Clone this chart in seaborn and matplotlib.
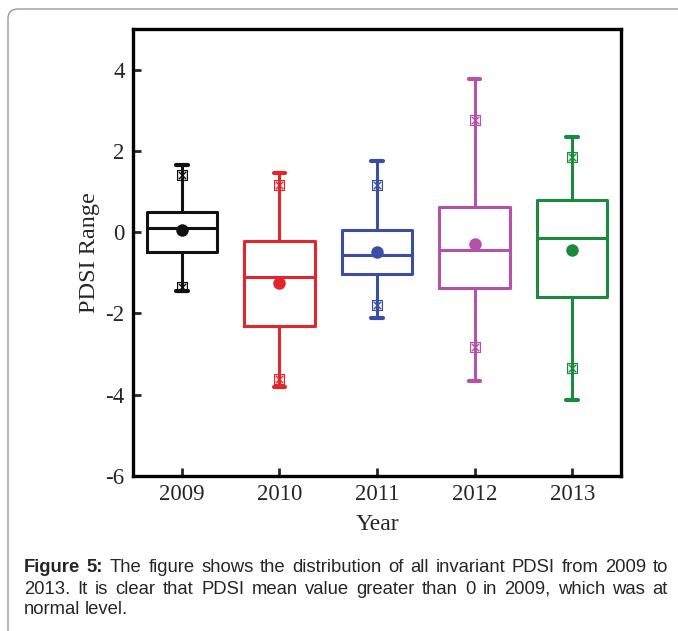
import pandas as pd
import matplotlib.pyplot as plt
import seaborn as sns
from matplotlib.patches import FancyBboxPatch

# valores
years = ['2009', '2010', '2011', '2012', '2013']
whisker_high = [1.65, 1.45, 1.75, 3.78, 2.35]
p99 = [1.40, 1.15, 1.15, 2.75, 1.85]
q3 = [0.50, -0.22, 0.05, 0.62, 0.78]
median = [0.10, -1.10, -0.55, -0.45, -0.15]
mean = [0.05, -1.25, -0.48, -0.30, -0.45]
q1 = [-0.48, -2.30, -1.02, -1.38, -1.60]
p01 = [-1.35, -3.62, -1.78, -2.82, -3.35]
whisker_low = [-1.45, -3.82, -2.12, -3.65, -4.12]
colors = ['#111111', '#e3262b', '#3b4ea5', '#b452a9', '#1a8a3e']

sns.set_style('ticks')
plt.rcParams['font.family'] = ['Liberation Serif', 'DejaVu Serif']
plt.rcParams['axes.unicode_minus'] = False

fig = plt.figure(figsize=(6.78, 6.31), dpi=100)
ax = fig.add_axes([133 / 678, 1 - 476 / 631, (621 - 133) / 678, (476 - 29) / 631])

df = pd.DataFrame({'year': years, 'mean': mean, 'p99': p99, 'p01': p01})
pal = dict(zip(years, colors))

# pontos de media
sns.stripplot(data=df, x='year', y='mean', hue='year', palette=pal, jitter=False,
              size=9, legend=False, ax=ax, zorder=5)
# marcadores 1% / 99%
for col in ['p99', 'p01']:
    sns.stripplot(data=df, x='year', y=col, hue='year', palette=pal, jitter=False,
                  marker=r'$\boxtimes$', size=8, linewidth=0, legend=False, ax=ax, zorder=5)

for i, y in enumerate(years):
    c = colors[i]
    st = [dict(med=median[i], q1=q1[i], q3=q3[i], whislo=whisker_low[i],
               whishi=whisker_high[i], fliers=[], label=y)]
    ax.bxp(st, positions=[i], widths=0.72, capwidths=0.12, showfliers=False,
           manage_ticks=False,
           boxprops=dict(color=c, linewidth=2.2),
           medianprops=dict(color=c, linewidth=2.2),
           whiskerprops=dict(color=c, linewidth=2.2),
           capprops=dict(color=c, linewidth=3))

ax.set_xlim(-0.5, 4.5)
ax.set_ylim(-6, 5)
ax.set_yticks([-6, -4, -2, 0, 2, 4])
ax.set_xticks(range(5))
ax.set_xticklabels(years)
ax.tick_params(direction='in', length=6, width=2, labelsize=16.5, pad=6)
for s in ax.spines.values():
    s.set_linewidth(2.4)
    s.set_color('black')
ax.set_xlabel('Year', fontsize=17, labelpad=6)
ax.set_ylabel('PDSI Range', fontsize=17.5, labelpad=4)

# moldura externa
frame = FancyBboxPatch((8 / 678, 1 - 700 / 631), 720 / 678, 691 / 631,
                       boxstyle='round,pad=0,rounding_size=0.015',
                       transform=fig.transFigure, fill=False,
                       edgecolor='#9a9a9a', linewidth=1.0)
fig.patches.append(frame)

# legenda da figura (texto justificado)
cap_font = ['Liberation Sans', 'DejaVu Sans']
lines = [
    [('Figure', 'bold'), ('5:', 'bold'), ('The', 'normal'), ('figure', 'normal'), ('shows', 'normal'),
     ('the', 'normal'), ('distribution', 'normal'), ('of', 'normal'), ('all', 'normal'),
     ('invariant', 'normal'), ('PDSI', 'normal'), ('from', 'normal'), ('2009', 'normal'), ('to', 'normal')],
    [(w, 'normal') for w in '2013. It is clear that PDSI mean value greater than 0 in 2009, which was at'.split()],
    [(w, 'normal') for w in 'normal level.'.split()],
]
line_y = [568, 589, 610]
x0, x1 = 24, 668
renderer = fig.canvas.get_renderer()
for k, words in enumerate(lines):
    texts = [fig.text(0, 1 - line_y[k] / 631, w, fontsize=13.3, fontweight=wt,
                      family=cap_font, va='center', ha='left') for w, wt in words]
    widths = [t.get_window_extent(renderer).width for t in texts]
    if k < 2:
        gap = (x1 - x0 - sum(widths)) / (len(texts) - 1)
    else:
        gap = 4
    x = x0
    for t, w in zip(texts, widths):
        t.set_x(x / 678)
        x += w + gap

plt.savefig('out.png', dpi=100)
